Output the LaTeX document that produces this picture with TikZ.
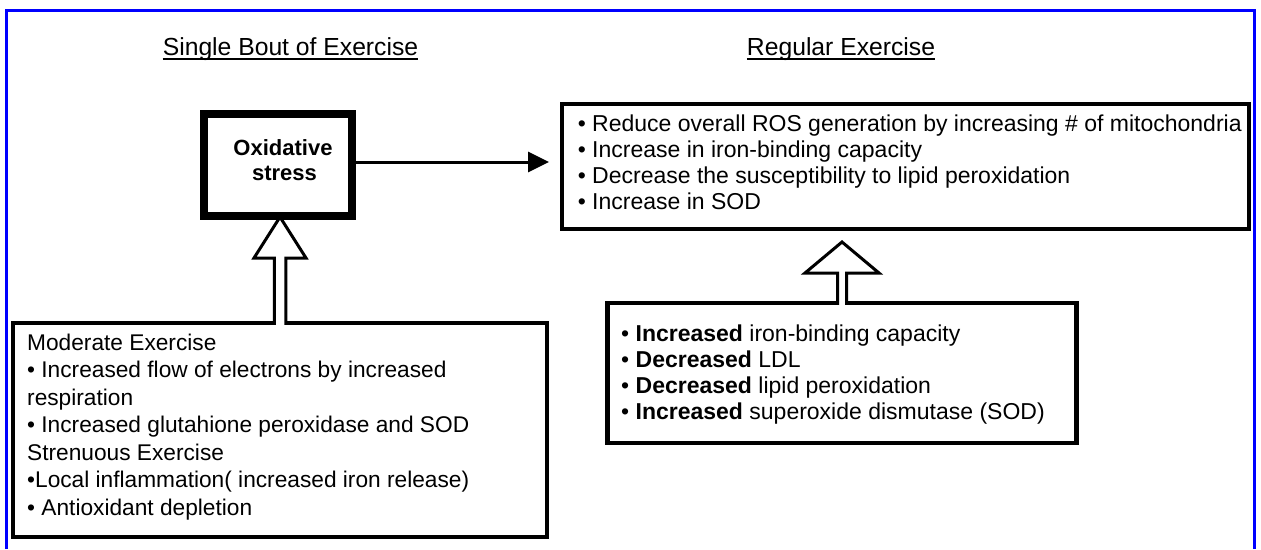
\documentclass[tikz,border=0pt]{standalone}
\usepackage{fontspec}
\setmainfont{Liberation Sans}
\usetikzlibrary{arrows.meta,calc}
\newcommand{\hollowarr}[5]{%
  % #1 tip coordinate, #2 bottom coordinate (same x), #3 head half width, #4 head length, #5 shaft half width
  \fill[white] ($(#2)+(-#5,2)$) -- ($(#1)+(-#5,#4)$) -- ($(#1)+(-#3,#4)$) -- (#1)
     -- ($(#1)+(#3,#4)$) -- ($(#1)+(#5,#4)$) -- ($(#2)+(#5,2)$) -- cycle;
  \draw[hollowline] ($(#2)+(-#5,1.75)$) -- ($(#1)+(-#5,#4)$) -- ($(#1)+(-#3,#4)$) -- (#1)
     -- ($(#1)+(#3,#4)$) -- ($(#1)+(#5,#4)$) -- ($(#2)+(#5,1.75)$);
}
\begin{document}
\begin{tikzpicture}[x=1pt,y=-1pt,
  txt/.style={inner sep=0pt, anchor=base west, font=\fontsize{23}{27}\selectfont},
  ltxt/.style={inner sep=0pt, anchor=base west, font=\fontsize{22.7}{27}\selectfont},
  ttl/.style={inner sep=0pt, anchor=base, font=\fontsize{24.7}{30}\selectfont},
  oxt/.style={inner sep=0pt, anchor=base, font=\bfseries\fontsize{22}{25}\selectfont},
  box/.style={draw, line width=3.5pt, inner sep=0pt, outer sep=0pt, rectangle},
  hollowline/.style={line width=3pt, line join=miter, miter limit=20},
  uline/.style={line width=2pt}]
\useasboundingbox (0,0) rectangle (1261,549);
\fill[white] (0,0) rectangle (1261,549);
\draw[blue, line width=3pt] (6,549) -- (6,10) -- (1254,10) -- (1254,549);

% titles
\node[ttl] (t1) at (290.5,55) {Single Bout of Exercise};
\node[ttl] (t2) at (841,55) {Regular Exercise};
\draw[uline] ($(t1.base west)+(0,3.5)$) -- ($(t1.base east)+(0,3.5)$);
\draw[uline] ($(t2.base west)+(0,3.5)$) -- ($(t2.base east)+(0,3.5)$);

% boxes
\node[box, line width=8pt, minimum width=148pt, minimum height=102pt] (ox) at (278,165) {};
\node[box, minimum width=687pt, minimum height=125pt] (tbox) at (905.5,166.5) {};
\node[box, line width=4.5pt, minimum width=469pt, minimum height=140pt] (rbox) at (842,373) {};
\node[box, minimum width=534pt, minimum height=214pt] (lbox) at (280,430) {};

% oxidative stress text
\node[oxt] (o1) at (283,155) {Oxidative};
\node[oxt] (o2) at (284.5,180) {stress};

% top right box text
\node[txt] (a1) at (577.6,131) {• Reduce overall ROS generation by increasing \# of mitochondria};
\node[txt] (a2) at (577.6,157) {• Increase in iron-binding capacity};
\node[txt] (a3) at (577.6,183) {• Decrease the susceptibility to lipid peroxidation};
\node[txt] (a4) at (577.6,209) {• Increase in SOD};

% bottom right box text
\node[txt] (b1) at (621,341) {• \textbf{Increased} iron-binding capacity};
\node[txt] (b2) at (621,367) {• \textbf{Decreased} LDL};
\node[txt] (b3) at (621,393) {• \textbf{Decreased} lipid peroxidation};
\node[txt] (b4) at (621,419) {• \textbf{Increased} superoxide dismutase (SOD)};

% left box text
\node[ltxt] (c1) at (27,350) {Moderate Exercise};
\node[ltxt] (c2) at (27,377.5) {• Increased flow of electrons by increased};
\node[ltxt] (c3) at (27,405) {respiration};
\node[ltxt] (c4) at (27,432.5) {• Increased glutahione peroxidase and SOD};
\node[ltxt] (c5) at (27,460) {Strenuous Exercise};
\node[ltxt] (c6) at (27,487.5) {•Local inflammation( increased iron release)};
\node[ltxt] (c7) at (27,515) {• Antioxidant depletion};

% solid arrow
\draw[line width=3pt, -{Triangle[length=21pt,width=20pt]}, shorten >=13pt]
  ($(ox.east)+(4,-3)$) -- ($(tbox.west |- ox.east)+(0,-3)$);

% hollow arrows
\coordinate (ltip) at ($(lbox.north |- ox.south)+(0,1)$);
\hollowarr{ltip}{lbox.north}{26}{41}{5.75}
\coordinate (rtip) at ($(rbox.north |- tbox.south)+(0,13)$);
\hollowarr{rtip}{rbox.north}{37}{31}{4.5}
\end{tikzpicture}
\end{document}
